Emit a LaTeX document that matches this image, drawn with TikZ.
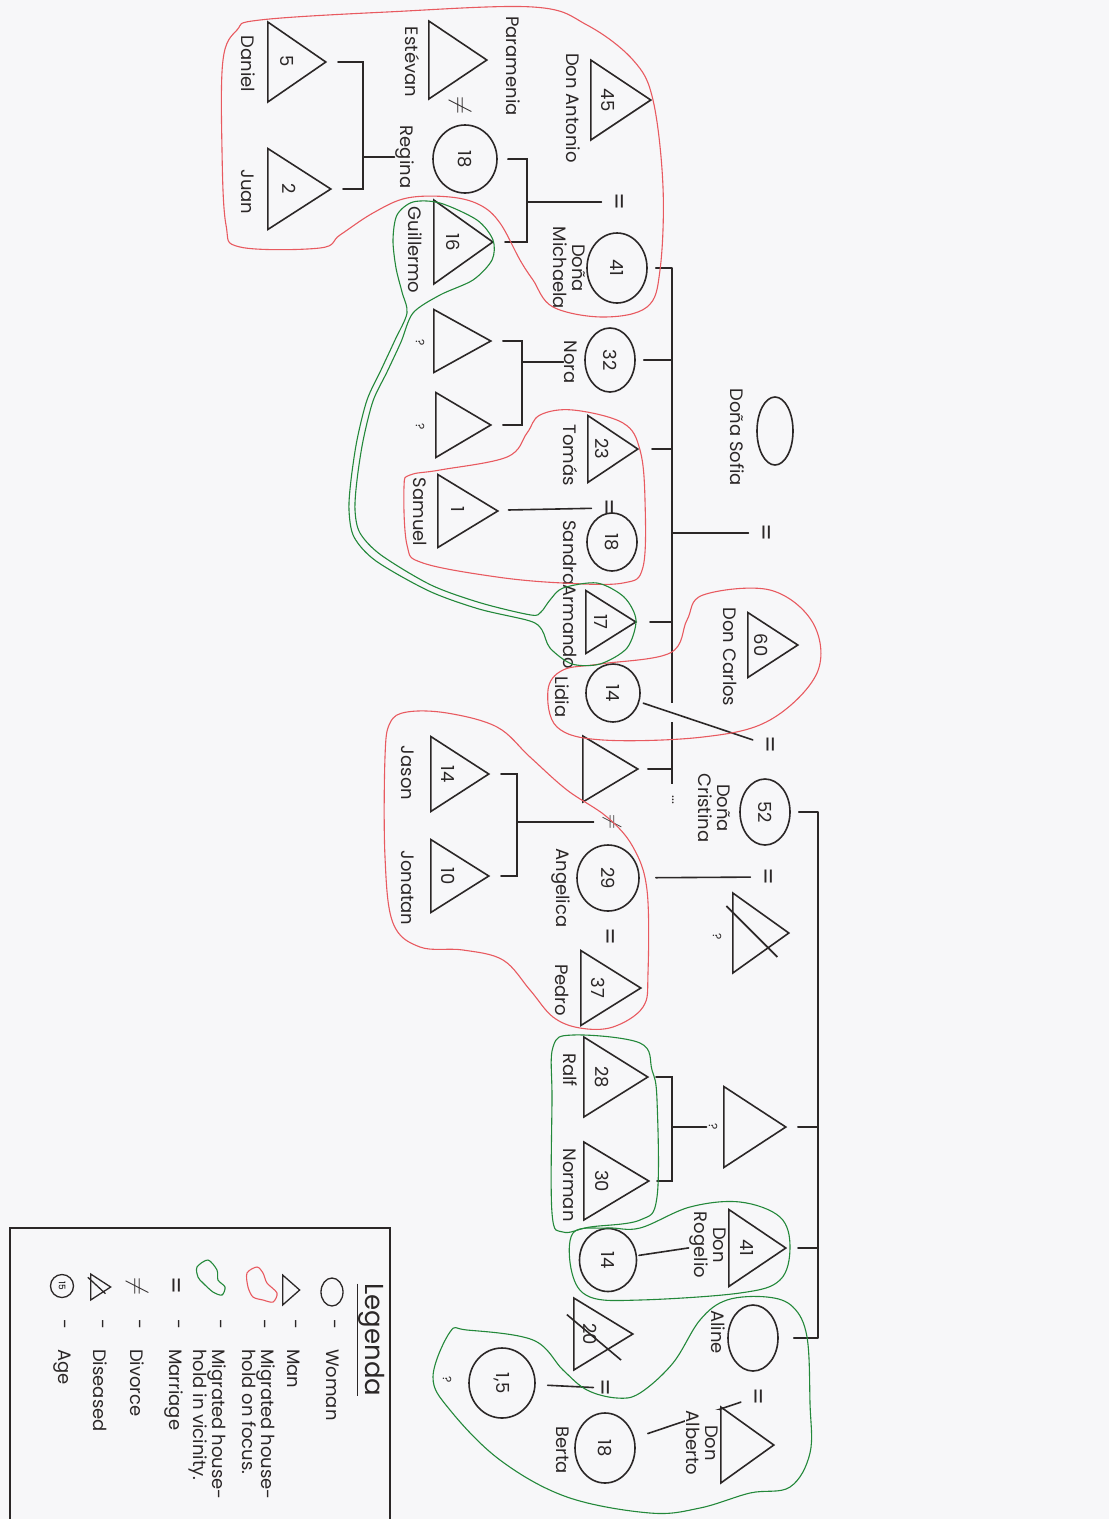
\documentclass[tikz,border=0pt]{standalone}
\usepackage{fontspec}
\setmainfont{Poppins}
\usepackage{graphicx}
\usetikzlibrary{shapes.geometric}

\definecolor{ink}{HTML}{2B2727}
\definecolor{paper}{HTML}{F7F7F9}
\definecolor{focusred}{HTML}{E85A60}
\definecolor{vicinitygreen}{HTML}{23883A}

\newcommand{\turned}[1]{\rotatebox[origin=c]{-90}{#1}}

\tikzset{
  inkline/.style={draw=ink, line width=1.6pt},
  man/.style 2 args={inkline, isosceles triangle, isosceles triangle stretches, inner sep=0pt, minimum height=#1, minimum width=#2, anchor=lower side, font=\fontsize{18}{20}\selectfont, text=ink},
  woman/.style 2 args={inkline, ellipse, inner sep=0pt, minimum width=#1, minimum height=#2, font=\fontsize{18}{20}\selectfont, text=ink},
  lbl/.style={rotate=-90, inner sep=1pt, align=center, text=ink, font=\fontsize{18}{19}\selectfont},
  eq/.style={lbl, font=\fontsize{25}{25}\selectfont},
  qmark/.style={lbl, font=\fontsize{12}{14}\selectfont},
  kin/.style={inkline, line cap=round, shorten <=8pt},
  dead/.style={inkline, shorten <=-8pt, shorten >=-12pt},
  focus/.style={draw=focusred, line width=1.1pt},
  vicinity/.style={draw=vicinitygreen, line width=1.1pt},
}

\begin{document}
\begin{tikzpicture}[x=1pt, y=-1pt]
  \useasboundingbox (0,0) rectangle (1109,1519);
  \fill[paper] (0,0) rectangle (1109,1519);
  \clip (0,0) rectangle (1109,1519);

  \node (sofia) at (775, 431) [woman={36}{68}] {};
  \node (sofiaName) at (737, 437) [lbl] {Doña Sofia};
  \node (eqS) at (764, 533) [eq] {=};
  \coordinate (sofiaBar) at (672, 533);
  \coordinate (sibTop) at (672, 268);
  \coordinate (sibCrossA) at (672, 703);
  \coordinate (sibCrossB) at (672, 722);
  \coordinate (sibEnd) at (672, 784);
  \node (sibMore) at (673, 800) [lbl, font=\fontsize{14}{16}\selectfont] {...};

  \node (michaela) at (617, 268) [woman={60}{70}] {\turned{41}};
  \node (michaelaName) at (569, 268) [lbl] {Doña\\Michaela};
  \node (antonio) at (590, 100) [man={60}{80}] {\turned{45}};
  \node (antonioName) at (573, 108) [lbl] {Don Antonio};
  \node (eqA) at (617, 202) [eq] {=};
  \coordinate (famA) at (527, 202);
  \node (regina) at (465, 159) [woman={64}{68}] {\turned{18}};
  \node (reginaName) at (405, 157) [lbl] {Regina};
  \node (guillermo) at (433, 242) [man={59}{84}] {\turned{16}};
  \node (guillermoName) at (415, 250) [lbl] {Guillermo};
  \node (estevan) at (428, 60) [man={58}{78}] {};
  \node (estevanName) at (412, 62) [lbl] {Estévan};
  \node (paramenia) at (513, 66) [lbl] {Paramenia};
  \node (neqR) at (460, 105) [eq] {$\neq$};
  \coordinate (famR) at (363, 157);
  \node (daniel) at (267, 62) [man={58}{80}] {\turned{5}};
  \node (danielName) at (248, 64) [lbl] {Daniel};
  \node (juan) at (267, 189) [man={63}{81}] {\turned{2}};
  \node (juanName) at (248, 192) [lbl] {Juan};

  \node (nora) at (610, 360) [woman={50}{64}] {\turned{32}};
  \node (noraName) at (571, 362) [lbl] {Nora};
  \coordinate (famN) at (522, 362);
  \node (noraSonA) at (433, 341) [man={57}{63}] {};
  \node (noraSonAQ) at (420, 343) [qmark] {?};
  \node (noraSonB) at (435, 425) [man={55}{65}] {};
  \node (noraSonBQ) at (420, 427) [qmark] {?};

  \node (tomas) at (587, 449) [man={50}{67}] {\turned{23}};
  \node (tomasName) at (570, 455) [lbl] {Tomás};
  \node (eqT) at (607, 508) [eq] {=};
  \node (sandra) at (612, 542) [woman={50}{58}] {\turned{18}};
  \node (sandraName) at (570, 553) [lbl] {Sandra};
  \node (samuel) at (437, 511) [man={60}{73}] {\turned{1}};
  \node (samuelName) at (420, 512) [lbl] {Samuel};

  \node (armando) at (585, 622) [man={50}{63}] {\turned{17}};
  \node (armandoName) at (570, 627) [lbl] {Armando};
  \node (lidia) at (613, 693) [woman={54}{58}] {\turned{14}};
  \node (lidiaName) at (562, 697) [lbl] {Lidia};
  \node (exman) at (582, 769) [man={55}{66}] {};
  \node (neqX) at (612, 822) [eq, font=\fontsize{22}{22}\selectfont] {$\neq$};
  \coordinate (famJ) at (517, 822);
  \node (jason) at (430, 774) [man={58}{75}] {\turned{14}};
  \node (jasonName) at (408, 773) [lbl] {Jason};
  \node (jonatan) at (430, 876) [man={58}{73}] {\turned{10}};
  \node (jonatanName) at (408, 888) [lbl] {Jonatan};

  \node (carlos) at (747, 645) [man={50}{65}] {\turned{60}};
  \node (carlosName) at (730, 657) [lbl] {Don Carlos};
  \node (eqC) at (768, 745) [eq] {=};
  \node (cristina) at (765, 812) [woman={50}{66}] {\turned{52}};
  \node (cristinaName) at (714, 808) [lbl] {Doña\\Cristina};
  \node (eqD) at (766, 877) [eq] {=};
  \node (husband) at (732, 933) [man={56}{80}] {};
  \node (husbandQ) at (717, 937) [qmark] {?};
  \node (angelica) at (608, 878) [woman={62}{66}] {\turned{29}};
  \node (angelicaName) at (561, 888) [lbl] {Angelica};
  \node (eqP) at (608, 937) [eq] {=};
  \node (pedro) at (580, 988) [man={60}{75}] {\turned{37}};
  \node (pedroName) at (562, 990) [lbl] {Pedro};

  \coordinate (sib2Top) at (818, 812);
  \coordinate (sib2End) at (818, 1338);
  \node (uncle) at (723, 1127) [man={62}{81}] {};
  \node (uncleQ) at (713, 1127) [qmark] {?};
  \coordinate (famU) at (672, 1127);
  \node (ralf) at (583, 1077) [man={64}{80}] {\turned{28}};
  \node (ralfName) at (570, 1070) [lbl] {Ralf};
  \node (norman) at (583, 1181) [man={65}{78}] {\turned{30}};
  \node (normanName) at (570, 1185) [lbl] {Norman};
  \node (rogelio) at (728, 1248) [man={57}{77}] {\turned{41}};
  \node (rogelioName) at (708, 1245) [lbl] {Don\\Rogelio};
  \node (cousin) at (608, 1260) [woman={57}{63}] {\turned{14}};
  \node (aline) at (753, 1338) [woman={50}{66}] {};
  \node (alineName) at (718, 1332) [lbl] {Aline};
  \node (eqE) at (756, 1397) [eq] {=};
  \node (berta) at (605, 1448) [woman={60}{70}] {\turned{18}};
  \node (bertaName) at (563, 1450) [lbl] {Berta};
  \node (eqB) at (603, 1388) [eq] {=};
  \node (bertaPartner) at (573, 1334) [man={59}{72}] {\turned{20}};
  \node (baby) at (502, 1383) [woman={66}{70}] {\turned{1,5}};
  \node (babyQ) at (447, 1380) [qmark] {?};

  \draw[kin] (eqS) -- (sofiaBar);
  \draw[inkline] (sibTop) -- (sibCrossA) (sibCrossB) -- (sibEnd);
  \draw[kin] (michaela) -- (michaela -| sibTop);
  \draw[kin] (nora) -- (nora -| sibTop);
  \draw[kin, shorten <=12pt] (tomas) -- (tomas -| sibTop);
  \draw[kin, shorten <=12pt] (armando) -- (armando -| sibTop);
  \draw[kin] (exman) -- (exman -| sibTop);

  \draw[kin] (eqA) -- (famA);
  \draw[kin, shorten <=10pt, shorten >=10pt] (regina) -- (regina -| famA) -- (guillermo -| famA) -- (guillermo);
  \draw[kin, shorten <=0pt] (reginaName) -- (famR);
  \draw[kin, shorten <=10pt, shorten >=10pt] (daniel) -- (daniel -| famR) -- (juan -| famR) -- (juan);
  \draw[kin, shorten <=0pt] (noraName) -- (famN);
  \draw[kin, shorten <=10pt, shorten >=10pt] (noraSonA) -- (noraSonA -| famN) -- (noraSonB -| famN) -- (noraSonB);
  \draw[kin, shorten >=10pt] (eqT) -- (samuel);
  \draw[kin, shorten >=4pt] (eqC) -- (lidia);
  \draw[kin] (neqX) -- (famJ);
  \draw[kin, shorten <=10pt, shorten >=10pt] (jason) -- (jason -| famJ) -- (jonatan -| famJ) -- (jonatan);
  \draw[kin, shorten >=16pt] (eqD) -- (angelica);

  \draw[inkline] (sib2Top) -- (sib2End);
  \draw[kin] (cristina) -- (cristina -| sib2Top);
  \draw[kin, shorten <=10pt] (uncle) -- (uncle -| sib2Top);
  \draw[kin, shorten <=10pt] (rogelio) -- (rogelio -| sib2Top);
  \draw[kin, shorten <=15pt] (aline) -- (aline -| sib2Top);
  \draw[kin, shorten <=1pt] (uncleQ) -- (famU);
  \draw[kin, shorten <=6pt, shorten >=6pt] (ralf) -- (ralf -| famU) -- (norman -| famU) -- (norman);
  \draw[kin, shorten <=0pt, shorten >=2pt] (rogelioName) -- (cousin);
  \draw[kin, shorten <=2pt, shorten >=12pt] (eqB) -- (baby);
  \draw[kin, shorten >=14pt] (eqE) -- (berta);
  \node (albertoName) at (702, 1443) [lbl, fill=paper] {Don\\Alberto};
  \node (alberto) at (720, 1445) [man={53}{76}] {};
  \draw[dead] (husband.135) -- (husband.-45);
  \draw[dead, shorten >=-16pt] (bertaPartner.140) -- (bertaPartner.-40);

  \draw[focus] plot[smooth cycle, tension=0.6] coordinates {(223,60) (237,30) (260,20) (387,12) (533,7) (587,25) (633,60) (653,100) (663,187) (660,270) (647,307) (603,317) (553,307) (533,280) (520,260) (500,223) (480,205) (450,197) (407,198) (373,213) (340,235) (320,248) (240,247) (226,225) (222,150)};
  \draw[focus] plot[smooth cycle, tension=0.6] coordinates {(540,415) (573,410) (623,423) (640,450) (645,500) (643,567) (623,583) (563,583) (497,577) (423,563) (407,545) (404,487) (410,475) (440,470) (507,457) (527,433)};
  \draw[focus] plot[smooth cycle, tension=0.6] coordinates {(703,595) (770,590) (813,623) (817,673) (770,720) (703,737) (603,740) (557,727) (548,690) (563,670) (600,664) (670,653) (687,620)};
  \draw[focus] plot[smooth cycle, tension=0.6] coordinates {(390,723) (407,712) (447,713) (497,727) (530,757) (567,790) (607,817) (633,847) (647,890) (648,973) (643,1007) (613,1027) (580,1028) (553,1017) (530,990) (503,960) (463,950) (420,947) (393,923) (385,857) (385,757)};

  \draw[vicinity] plot[smooth cycle, tension=0.5] coordinates {(407,313) (395,340) (381,370) (367,400) (357,440) (351,480) (349,510) (354,537) (376,561) (429,591) (479,609) (530,621) (542,630) (550,648) (572,664) (600,664) (627,648) (636,620) (624,597) (597,583) (563,588) (550,600) (541,612) (531,615) (481,603) (431,585) (381,555) (360,533) (355,510) (357,480) (363,441) (373,401) (387,372) (401,342) (413,313) (440,295) (473,280) (492,260) (493,240) (477,220) (440,203) (413,202) (397,215) (393,240) (396,268) (402,292)};
  \draw[vicinity] plot[smooth cycle, tension=0.6] coordinates {(553,1047) (573,1035) (640,1043) (652,1070) (657,1100) (657,1197) (640,1220) (590,1227) (563,1232) (552,1213) (552,1100)};
  \draw[vicinity] plot[smooth cycle, tension=0.6] coordinates {(573,1233) (607,1228) (640,1228) (690,1207) (740,1202) (780,1217) (790,1247) (780,1280) (740,1293) (640,1300) (590,1297) (572,1273)};
  \draw[vicinity] plot[smooth cycle, tension=0.6] coordinates {(450,1332) (467,1330) (533,1340) (563,1370) (587,1390) (617,1398) (640,1393) (673,1363) (700,1320) (727,1300) (767,1297) (793,1307) (807,1337) (810,1403) (810,1453) (790,1487) (750,1493) (700,1508) (650,1513) (567,1497) (500,1460) (450,1410) (433,1377)};

  \coordinate (legendTopLeft) at (10, 1228);
  \coordinate (legendTopRight) at (390, 1228);
  \coordinate (legendBottomLeft) at (10, 1530);
  \coordinate (legendBottomRight) at (390, 1530);
  \draw[inkline, line width=1.3pt] (legendBottomLeft) -- (legendTopLeft) -- (legendTopRight) -- (legendBottomRight);
  \node (legendTitle) at (371, 1340) [lbl, font=\fontsize{26}{28}\selectfont] {\underline{Legenda}};
  \node (keyWoman) at (332, 1292) [woman={22}{28}, line width=1.3pt] {};
  \node (keyMan) at (282, 1290) [man={17}{30}, line width=1.3pt] {};
  \draw[focus] plot[smooth cycle] coordinates {(247,1273) (257,1267) (263,1273) (267,1283) (277,1293) (273,1302) (263,1300) (253,1297) (248,1287)};
  \draw[vicinity] plot[smooth cycle] coordinates {(197,1267) (208,1260) (217,1270) (218,1280) (225,1287) (222,1295) (213,1292) (203,1283) (198,1277)};
  \node (keyMarriage) at (174, 1286) [eq] {=};
  \node (keyDivorce) at (137, 1286) [eq] {$\neq$};
  \node (keyDead) at (90, 1287) [man={20}{26}, line width=1.3pt] {};
  \draw[dead, line width=1.3pt, shorten <=-3pt, shorten >=-2pt] (keyDead.135) -- (keyDead.-40);
  \node (keyAge) at (62, 1286) [inkline, line width=1.3pt, circle, inner sep=0pt, minimum size=23pt, font=\fontsize{9}{10}\selectfont] {\turned{15}};
  \foreach \x in {332, 293, 262, 218, 176, 137, 100, 62}
    \node (dash\x) at (\x, 1324) [lbl] {-};
  \foreach \x/\txt in {333/Woman, 294/Man, 259/{Migrated house-\\hold on focus.}, 208/{Migrated house-\\hold in vicinity.}, 174/Marriage, 137/Divorce, 100/Diseased, 62/Age}
    \node (key\x) at (\x, 1348) [lbl, anchor=west, align=left] {\txt};
\end{tikzpicture}
\end{document}
